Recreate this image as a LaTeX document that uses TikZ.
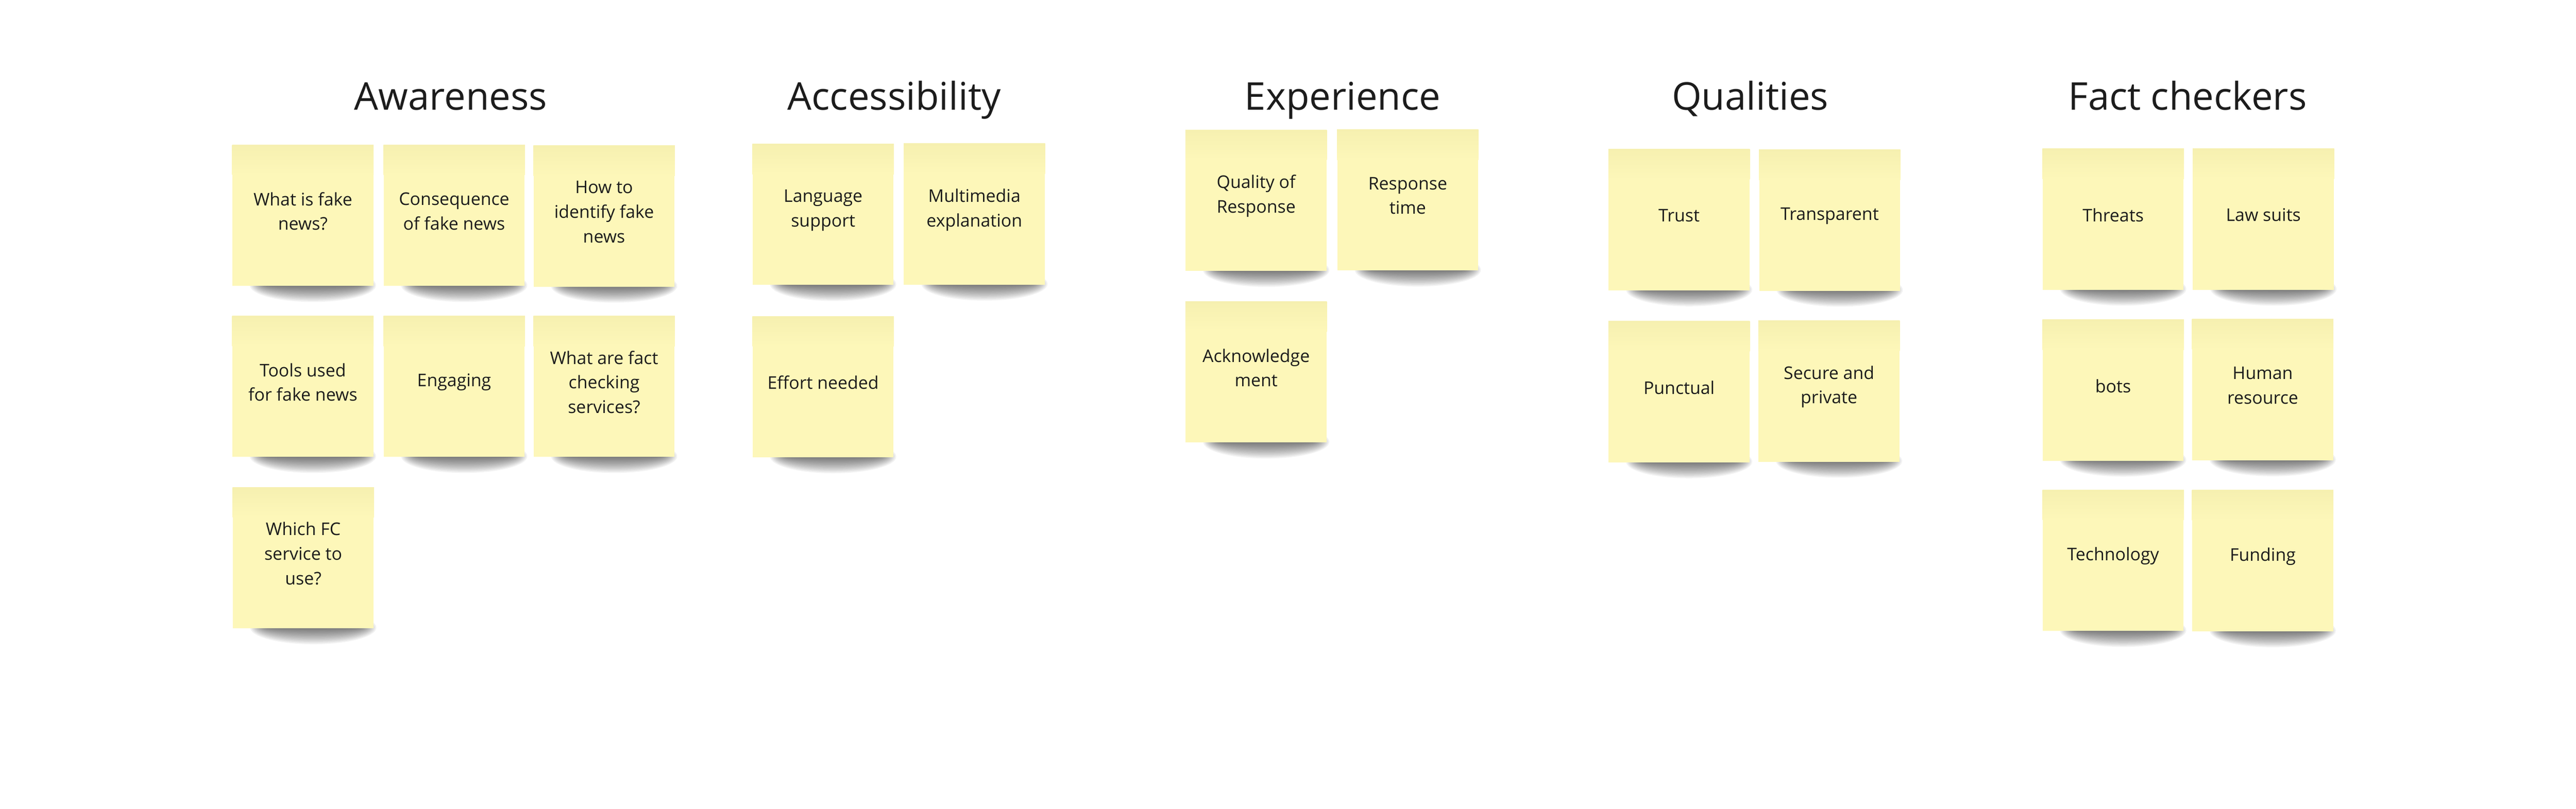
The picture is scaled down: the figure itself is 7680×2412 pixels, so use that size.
\documentclass[tikz,border=0pt]{standalone}
\usepackage{fontspec}
\setmainfont{Open Sans}
\definecolor{stickymain}{RGB}{253,247,185}
\definecolor{stickytop}{RGB}{246,240,176}
\definecolor{inkc}{RGB}{28,28,28}
\tikzset{
  sticky/.style={rectangle, fill=stickymain, minimum width=4.2cm, minimum height=4.2cm,
    inner sep=0pt, align=center, text=inkc,
    font=\fontsize{14.8pt}{20.8pt}\selectfont},
  title/.style={anchor=base, text=inkc, inner sep=0pt,
    font=\fontsize{32.4pt}{38pt}\selectfont},
  shadowlayer/.style={fill=black, opacity=0.05}
}
\newcommand\stickynote[4]{%
  \foreach \k in {0,...,12}{%
    \fill[shadowlayer] (#2+30,#3+208) ellipse [x radius={140+4*\k}, y radius={4+3.8*\k}];
  }
  \node[sticky] (#1) at (#2,#3) {};
  \shade[top color=stickytop, bottom color=stickymain]
    (#1.north west) rectangle ([yshift=-0.9cm]#1.north east);
  \node[sticky, fill=none, minimum width=0pt, minimum height=0pt, yshift=0.13cm] at (#1.center) {#4};
}
\begin{document}
\begin{tikzpicture}[x=0.01cm,y=-0.01cm]
\useasboundingbox[fill=white] (0,0) rectangle (7680,2412);

% titles
\node[title] (tAware) at (1344,328) {Awareness};
\node[title] (tAccess) at (2666,328) {Accessibility};
\node[title] (tExp) at (4003,328) {Experience};
\node[title] (tQual) at (5218,328) {Qualities};
\node[title] (tFact) at (6522,328) {Fact checkers};

% Awareness
\stickynote{a1}{903}{643}{What is fake\\news?}
\stickynote{a2}{1354}{643}{Consequence\\of fake news}
\stickynote{a3}{1801}{645}{How to\\identify fake\\news}
\stickynote{a4}{903}{1153}{Tools used\\for fake news}
\stickynote{a5}{1354}{1153}{Engaging}
\stickynote{a6}{1801}{1153}{What are fact\\checking\\services?}
\stickynote{a7}{904}{1664}{Which FC\\service to\\use?}

% Accessibility
\stickynote{b1}{2454}{640}{Language\\support}
\stickynote{b2}{2905}{639}{Multimedia\\explanation}
\stickynote{b3}{2454}{1154}{Effort needed}

% Experience
\stickynote{c1}{3745}{598}{Quality of\\Response}
\stickynote{c2}{4197}{597}{Response\\time}
\stickynote{c3}{3745}{1110}{Acknowledge\\ment}

% Qualities
\stickynote{d1}{5006}{656}{Trust}
\stickynote{d2}{5455}{657}{Transparent}
\stickynote{d3}{5006}{1169}{Punctual}
\stickynote{d4}{5453}{1167}{Secure and\\private}

% Fact checkers
\stickynote{e1}{6300}{654}{Threats}
\stickynote{e2}{6748}{654}{Law suits}
\stickynote{e3}{6300}{1164}{bots}
\stickynote{e4}{6746}{1163}{Human\\resource}
\stickynote{e5}{6300}{1672}{Technology}
\stickynote{e6}{6746}{1673}{Funding}
\end{tikzpicture}
\end{document}
